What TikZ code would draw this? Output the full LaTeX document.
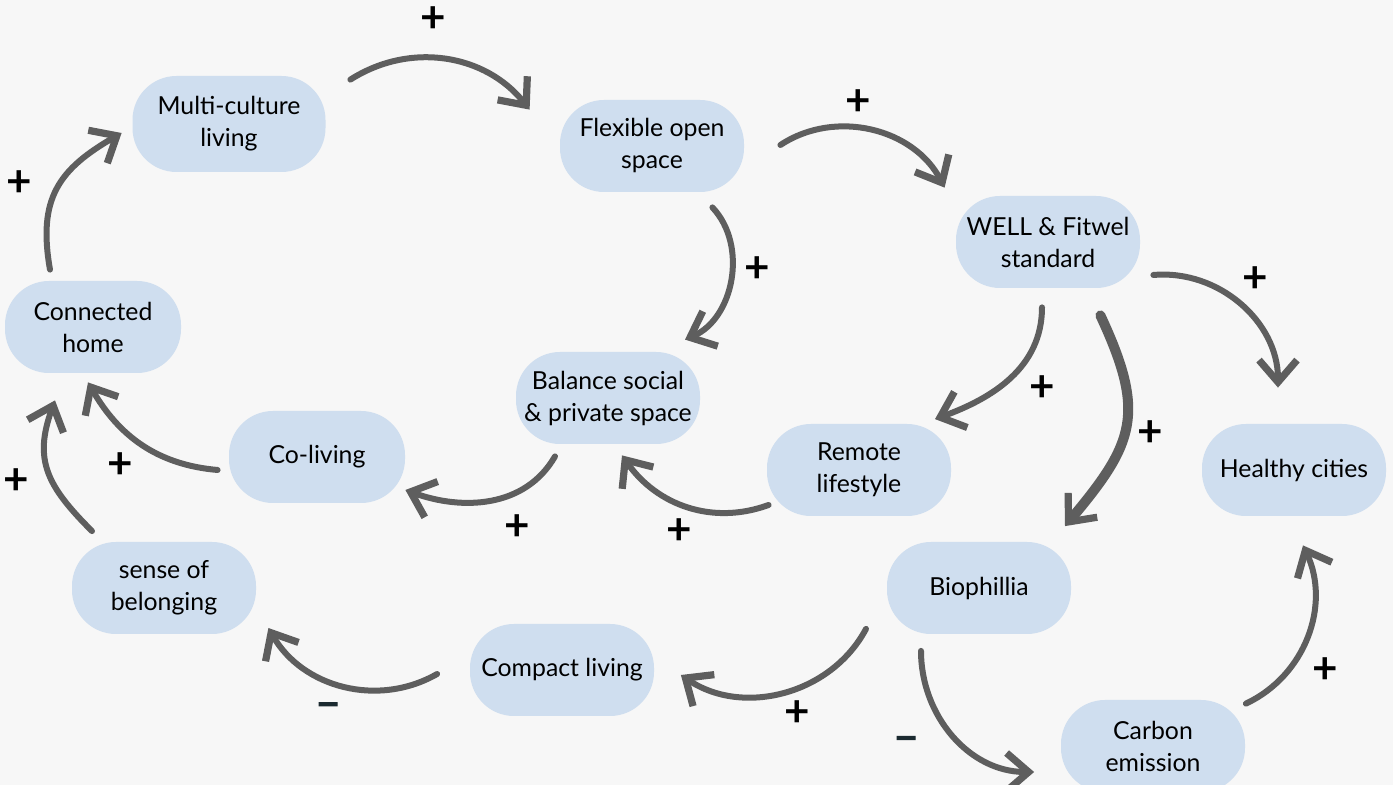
\documentclass[tikz,border=0pt]{standalone}
\usepackage{fontspec}
\setmainfont{Lato}
\newfontfamily\heavyfont[FakeBold=3]{Lato}
\usetikzlibrary{arrows.meta}
\usetikzlibrary{positioning}

\definecolor{boxblue}{HTML}{CFDEEF}
\definecolor{arrowgray}{HTML}{5E5E5E}
\definecolor{pagegray}{HTML}{F7F7F7}
\definecolor{minusdark}{HTML}{1B2A30}

\begin{document}
\begin{tikzpicture}[x=0.5pt, y=0.5pt,
    block/.style={fill=boxblue, rounded corners=22pt, minimum width=92pt, minimum height=46pt,
      inner sep=0pt, align=center, font=\fontsize{12.4}{16}\selectfont},
    flow/.style={draw=arrowgray, line width=3pt, line cap=round,
      -{Straight Barb[length=11pt,width=19pt,line width=3.6pt]}},
    sign/.style={font=\fontsize{22}{22}\selectfont\bfseries, inner sep=0pt},
    minus/.style={font=\fontsize{22}{22}\heavyfont, inner sep=0pt, text=minusdark}]
  \fill[pagegray] (0,0) rectangle (1393,-785);
  \useasboundingbox (0,0) rectangle (1393,-785);

  \node[block, minimum width=96.5pt, minimum height=48pt] (multi) at (229,-124) {Multi-culture\\living};
  \node[block] (flex) at (652,-146) {Flexible open\\space};
  \node[block] (well) at (1048,-242) {WELL \& Fitwel\\standard};
  \node[block, minimum width=88pt] (conn) at (93,-327) {Connected\\home};
  \node[block] (bal) at (608,-398) {Balance social\\\& private space};
  \node[block, minimum width=88pt] (coliv) at (317,-457) {Co-living};
  \node[block] (remote) at (859,-470) {Remote\\lifestyle};
  \node[block] (healthy) at (1294,-470) {Healthy cities};
  \node[block] (sense) at (164,-588) {sense of\\belonging};
  \node[block] (bio) at (979,-588) {Biophillia};
  \node[block] (compact) at (562,-670) {Compact living};
  \node[block] (carbon) at (1153,-746) {Carbon\\emission};

  \draw
  ([shift={(24.5,-4)}]multi.north east) edge[flow, bend left=42] node[sign, shift={(-13,40)}] (p1) {+} ([shift={(-30,-10)}]flex.north west)
  ([shift={(36,1)}]flex.east) edge[flow, bend left=48] node[sign, shift={(-14,28)}] (p2) {+} ([shift={(-11,8)}]well.north west)
  ([shift={(-32,-15)}]flex.south east) edge[flow, bend left=55] node[sign, shift={(27,10)}] (p3) {+} ([shift={(77,12)}]bal.north)
  ([shift={(-6,-19)}]well.south) edge[flow, out=-90, in=20] node[sign, shift={(32,-10)}] (p4) {+} ([shift={(76,4.5)}]remote.north)
  ([shift={(-40,-27)}]well.south east) edge[flow, line width=5pt, out=-65, in=50, looseness=1.3] node[sign, shift={(24,-7)}] (p5) {+} ([shift={(86,15.5)}]bio.north)
  ([shift={(13,-33)}]well.east) edge[flow, out=5, in=90] node[sign, shift={(15,25)}] (p6) {+} ([shift={(-16,36)}]healthy.north)
  ([shift={(2,-35)}]remote.west) edge[flow, out=200, in=-55] node[sign, shift={(-8,-25)}] (p7) {+} ([shift={(14,-11)}]bal.south)
  ([shift={(-53,-12)}]bal.south) edge[flow, out=240, in=-20] node[sign, shift={(27,-27)}] (p8) {+} ([shift={(0,-33)}]coliv.east)
  ([shift={(-11,-13)}]coliv.west) edge[flow, out=175, in=-60] node[sign, shift={(-21,-22)}] (p9) {+} ([shift={(-5,-9)}]conn.south)
  ([shift={(-72,10.5)}]sense.north) edge[flow, out=135, in=-110, looseness=1.2] node[sign, shift={(-32,-10)}] (p10) {+} ([shift={(-38,-27)}]conn.south)
  ([shift={(-43,11)}]conn.north) edge[flow, out=100, in=210, looseness=1.2] node[sign, shift={(-38,5)}] (p11) {+} ([shift={(-10.5,-9)}]multi.west)
  ([shift={(-113,5.5)}]bio.south) edge[flow, bend left=48] node[sign, shift={(14,-21)}] (p12) {+} ([shift={(26.5,-5)}]compact.east)
  ([shift={(-32.5,-4)}]compact.west) edge[flow, bend left=45] node[minus, shift={(-15,-24)}] (m1) {\textendash} ([shift={(12,-40)}]sense.east)
  ([shift={(-58,-16.5)}]bio.south) edge[flow, out=-90, in=180] node[minus, shift={(-47,-8)}] (m2) {\textendash} ([shift={(-26.5,-26)}]carbon.west)
  ([shift={(0.5,-4)}]carbon.north east) edge[flow, bend right=45] node[sign, shift={(18,-34)}] (p13) {+} ([shift={(9,-29)}]healthy.south);
\end{tikzpicture}
\end{document}
